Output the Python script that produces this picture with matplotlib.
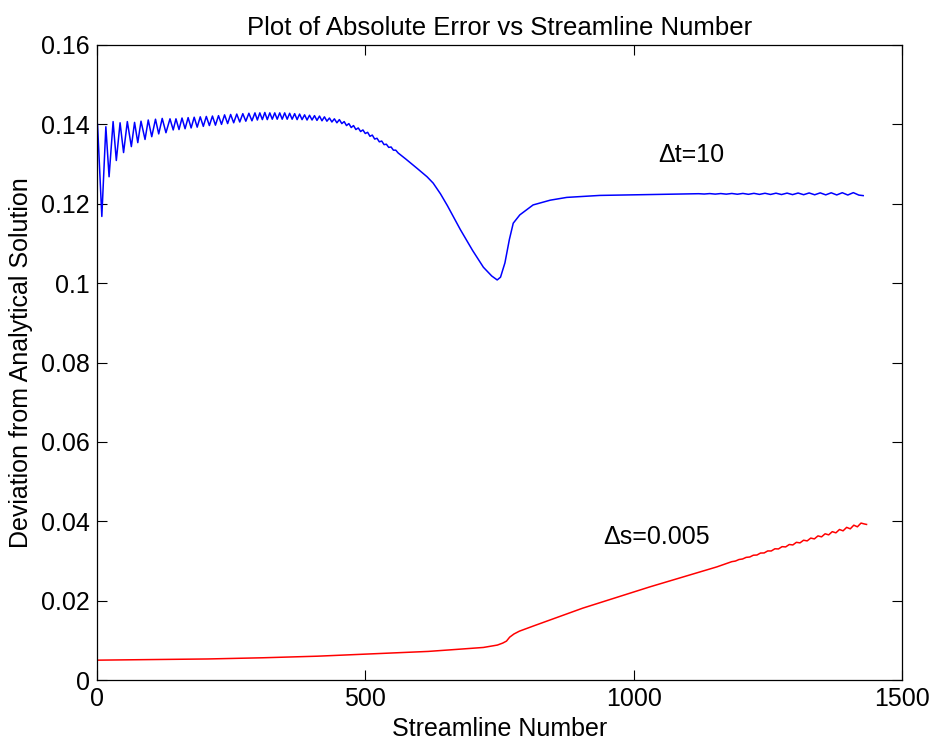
import matplotlib
matplotlib.use("Agg")
import matplotlib.pyplot as plt

# ---- data ----
blue_x = [1, 9, 16.5, 22.5, 30, 36, 43, 49.5, 56.5, 64, 70, 76, 82, 89.5, 95.5, 102, 109, 115, 121.5, 128.5,
          136, 142,
          147.1, 152.8, 158.4, 164.1, 169.8, 175.4, 181.1, 186.7, 192.4, 198.1, 203.7, 209.4, 215.1, 220.7,
          226.4, 232.0, 237.7, 243.4, 249.0, 254.7, 260.4, 266.0, 271.7, 277.3, 283.0, 288.7, 294.3,
          298.8, 303.4, 308.1, 312.7, 317.3, 322.0, 326.6, 331.2, 335.8, 340.5, 345.1, 349.7, 354.4, 359.0,
          363.6, 368.3, 372.9, 377.5, 382.1, 386.8, 391.4, 396.0, 400.7, 405.3, 409.9, 414.6, 419.2, 423.8,
          428.4, 433.1, 437.7, 442.3, 447.0, 451.6,
          456.2, 460.6, 464.9, 469.3, 473.7, 478.0, 482.4, 486.8, 491.2, 495.5, 499.9, 504.3, 508.6, 513.0,
          517.4, 521.7, 526.1, 530.5, 534.9, 539.2, 543.6, 548.0, 552.3, 556.7, 561.1,
          576, 596.6, 615, 626.4, 640, 653, 665, 677, 700, 720, 735.5, 745.7, 751.9, 760.1, 768.4, 775.6,
          787.9, 812.6, 844.5, 875.3, 937.1, 1062.5,
          1121.2, 1131.5, 1141.8, 1152.1, 1162.3, 1172.6, 1182.9, 1193.2, 1203.5, 1213.8, 1224.1, 1234.4,
          1244.7, 1255.0, 1265.2, 1275.5, 1285.8, 1296.1, 1306.4, 1316.7, 1327.0, 1337.3, 1347.6, 1357.9,
          1368.1, 1378.4, 1388.7, 1399.0, 1409.3, 1419.6, 1427.7]
blue_y = [0.1400, 0.1168, 0.1394, 0.1268, 0.1407, 0.1309, 0.1404, 0.1329, 0.1407, 0.1344, 0.1405, 0.1354,
          0.1408, 0.1362, 0.1411, 0.1369, 0.1413, 0.1376, 0.1415, 0.1379, 0.1414, 0.1386,
          0.1414, 0.1387, 0.1416, 0.1389, 0.1417, 0.1391, 0.1418, 0.1393, 0.1419, 0.1395, 0.1420, 0.1397,
          0.1421, 0.1398, 0.1422, 0.1400, 0.1424, 0.1402, 0.1425, 0.1404, 0.1426, 0.1406, 0.1427, 0.1408,
          0.1428, 0.1409, 0.1429,
          0.1411, 0.1429, 0.1412, 0.1430, 0.1412, 0.1429, 0.1413, 0.1429, 0.1413, 0.1429, 0.1413, 0.1429,
          0.1413, 0.1428, 0.1413, 0.1427, 0.1412, 0.1426, 0.1412, 0.1424, 0.1411, 0.1423, 0.1411, 0.1422,
          0.1410, 0.1421, 0.1409, 0.1419, 0.1408, 0.1416, 0.1406, 0.1414, 0.1404, 0.1412,
          0.1402, 0.1407, 0.1397, 0.1402, 0.1392, 0.1397, 0.1387, 0.1391, 0.1382, 0.1386, 0.1377, 0.1380,
          0.1370, 0.1373, 0.1363, 0.1365, 0.1356, 0.1358, 0.1349, 0.1350, 0.1342, 0.1343, 0.1335, 0.1335,
          0.1328,
          0.1312, 0.1289, 0.1268, 0.1252, 0.1225, 0.1195, 0.1165, 0.1135, 0.1082, 0.1040, 0.1018, 0.1008,
          0.1015, 0.1051, 0.1110, 0.1151, 0.1172, 0.1197, 0.1209, 0.1216, 0.1221, 0.1224,
          0.12253, 0.12245, 0.12256, 0.12243, 0.12257, 0.12242, 0.12259, 0.12240, 0.12260, 0.12238,
          0.12262, 0.12236, 0.12264, 0.12234, 0.12266, 0.12232, 0.12268, 0.12230, 0.12270, 0.12228,
          0.12272, 0.12226, 0.12274, 0.12224, 0.12276, 0.12222, 0.12278, 0.12220, 0.12280, 0.12218,
          0.12205]

red_x = [1, 103, 206, 309, 411, 514, 617, 669, 720, 746, 756, 763, 769, 777, 787, 813, 905, 1031, 1155,
         1182.9, 1189.6, 1196.3, 1202.9, 1209.6, 1216.3, 1223.0, 1229.7, 1236.4, 1243.1, 1249.8, 1256.4,
         1263.1, 1269.8, 1276.5, 1283.2, 1289.9, 1296.6, 1303.2, 1309.9, 1316.6, 1323.3, 1330.0, 1336.7,
         1343.4, 1350.1, 1356.7, 1363.4, 1370.1, 1376.8, 1383.5, 1390.2, 1396.9, 1403.6, 1410.2, 1416.9,
         1423.6, 1430.3, 1433.9]
red_y = [0.0050, 0.00515, 0.0053, 0.0056, 0.0060, 0.0066, 0.0072, 0.0077, 0.0082, 0.0088, 0.0093, 0.0098,
         0.0108, 0.0116, 0.0123, 0.0136, 0.0181, 0.0235, 0.0285,
         0.02982, 0.02997, 0.03036, 0.03049, 0.03090, 0.03099, 0.03144, 0.03149, 0.03199, 0.03201, 0.03252,
         0.03251, 0.03306, 0.03302, 0.03360, 0.03353, 0.03414, 0.03403, 0.03469, 0.03455, 0.03522, 0.03505,
         0.03576, 0.03555, 0.03631, 0.03607, 0.03684, 0.03657, 0.03738, 0.03708, 0.03792, 0.03759, 0.03846,
         0.03809, 0.03901, 0.03860, 0.03954, 0.03930, 0.03920]

x_ticks = [0, 500, 1000, 1500]
y_ticks = [0, 0.02, 0.04, 0.06, 0.08, 0.1, 0.12, 0.14, 0.16]
y_tick_labels = ["0", "0.02", "0.04", "0.06", "0.08", "0.1", "0.12", "0.14", "0.16"]
title = "Plot of Absolute Error vs Streamline Number"
x_label = "Streamline Number"
y_label = "Deviation from Analytical Solution"
label_dt = "\u0394t=10"
label_ds = "\u0394s=0.005"

# ---- drawing ----
plt.rcParams['font.family'] = ['Liberation Sans', 'DejaVu Sans']
fig = plt.figure(figsize=(9.41, 7.47), dpi=100)
ax = fig.add_axes([97/941, 1 - 680/747, (902 - 97)/941, (680 - 45)/747])

ax.plot(blue_x, blue_y, color='#0000FF', lw=1.1)
ax.plot(red_x, red_y, color='#FF0000', lw=1.1)

ax.set_xlim(0, 1500)
ax.set_ylim(0, 0.16)
ax.set_xticks(x_ticks)
ax.set_xticklabels([str(t) for t in x_ticks])
ax.set_yticks(y_ticks)
ax.set_yticklabels(y_tick_labels)
ax.tick_params(direction='in', length=7, width=0.8, top=True, right=True,
               labelsize=18, pad=5)
for s in ax.spines.values():
    s.set_linewidth(0.9)

ax.set_title(title, fontsize=18.5, pad=7)
ax.set_xlabel(x_label, fontsize=18, labelpad=4)
ax.set_ylabel(y_label, fontsize=18, labelpad=6)

ax.text(1107, 0.1323, label_dt, fontsize=18, ha='center', va='center')
ax.text(1043, 0.0360, label_ds, fontsize=18, ha='center', va='center')

fig.savefig("out.png", dpi=100)
